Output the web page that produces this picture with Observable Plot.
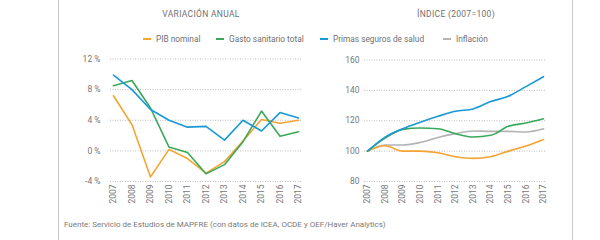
<!DOCTYPE html>
<html><head><meta charset="utf-8">
<script src="https://cdn.jsdelivr.net/npm/d3@7"></script>
<script src="https://cdn.jsdelivr.net/npm/@observablehq/plot@0.6"></script>
<style>
body{margin:0;background:#fff;font-family:Roboto,"DejaVu Sans",sans-serif;}
#wrap{position:relative;width:600px;height:240px;overflow:hidden;background:#fff;}
.frame{position:absolute;top:0;height:240px;width:0;border-left:1.5px solid #c8c8c8;}
.title{position:absolute;top:9px;font-size:8.5px;color:#707070;letter-spacing:0.3px;transform:translateX(-50%);white-space:nowrap;}
#legend{position:absolute;top:33px;left:0;width:600px;font-size:8.3px;color:#707070;white-space:nowrap;}
.li{position:absolute;top:0;line-height:12px;}
.sw{display:inline-block;width:8px;height:2px;vertical-align:middle;margin-right:5px;position:relative;top:-1px;}
.chart{position:absolute;top:50px;}
#foot{position:absolute;left:64px;top:220px;font-size:8px;color:#7a7a7a;white-space:nowrap;}
</style></head>
<body><div id="wrap">
<div class="frame" style="left:58px"></div>
<div class="frame" style="left:572px"></div>
<div class="title" style="left:201px">VARIACIÓN ANUAL</div>
<div class="title" style="left:456px">ÍNDICE (2007=100)</div>
<div id="legend"></div>
<div id="left" class="chart" style="left:60px"></div>
<div id="right" class="chart" style="left:310px"></div>
<div id="foot">Fuente: Servicio de Estudios de MAPFRE (con datos de ICEA, OCDE y OEF/Haver Analytics)</div>
</div>
<script>
const years = [2007,2008,2009,2010,2011,2012,2013,2014,2015,2016,2017];
const seriesNames = ["PIB nominal","Gasto sanitario total","Primas seguros de salud","Inflación"];
const seriesColors = ["#f5a331","#3aa85a","#1a98d5","#b3b3b3"];

// Variación anual (%)
const pibVar    = [7.2, 3.4, -3.4, 0.2, -1.0, -2.9, -1.4, 1.3, 4.1, 3.6, 4.0];
const gastoVar  = [8.5, 9.2, 5.6, 0.5, -0.2, -3.0, -1.8, 1.2, 5.2, 1.9, 2.5];
const primasVar = [9.9, 8.0, 5.4, 4.0, 3.1, 3.2, 1.4, 4.0, 2.6, 5.0, 4.3];
const varTicks = [-4, 0, 4, 8, 12];

// Índice (2007=100)
const pibIdx    = [100, 103.5, 100, 100, 98.9, 96.3, 95.2, 96.3, 100, 103.3, 107.6];
const gastoIdx  = [100, 108.6, 114.3, 115.2, 114.7, 111.5, 109.3, 110.4, 116.3, 118.5, 121.3];
const primasIdx = [100, 109.2, 114.7, 119, 122.9, 126.3, 127.8, 132.6, 136.1, 142.5, 149];
const inflIdx   = [100, 104, 104, 105.7, 109, 111.5, 113.3, 113, 113, 112.6, 114.7];
const idxTicks = [80, 100, 120, 140, 160];

// legend
const legendX = [143, 216, 320, 443];
const leg = document.getElementById("legend");
seriesNames.forEach((n,i)=>{
  const d = document.createElement("div");
  d.className="li"; d.style.left = legendX[i]+"px";
  d.innerHTML = `<span class="sw" style="background:${seriesColors[i]}"></span>${n}`;
  leg.appendChild(d);
});

function rows(vals, name){ return years.map((y,i)=>({year:y, value:vals[i], series:name})); }

const common = {
  width: 250, height: 160, marginTop: 8.5, marginBottom: 29,
  style: {fontFamily: "Roboto, sans-serif", fontSize: "8.5px", color: "#777", background: "transparent"},
  color: {domain: seriesNames, range: seriesColors}
};

const leftData = [...rows(pibVar, seriesNames[0]), ...rows(gastoVar, seriesNames[1]), ...rows(primasVar, seriesNames[2])];
const left = Plot.plot({
  ...common,
  marginLeft: 50, marginRight: 9,
  x: {domain: [2007, 2017], inset: 3},
  y: {domain: [-4, 12]},
  marks: [
    Plot.gridY(varTicks, {stroke: "#bdbdbd", strokeOpacity: 1, strokeDasharray: "1,1.5"}),
    Plot.axisY(varTicks, {tickSize: 0, tickPadding: 10, tickFormat: d => d + " %", label: null, fill: "#777"}),
    Plot.axisX(years, {tickSize: 0, tickPadding: 3, tickRotate: -90, tickFormat: d => String(d), label: null, fill: "#777"}),
    Plot.line(leftData, {x: "year", y: "value", z: "series", stroke: "series", strokeWidth: 1.6})
  ]
});
document.getElementById("left").appendChild(left);

const rightData = [...rows(inflIdx, seriesNames[3]), ...rows(pibIdx, seriesNames[0]), ...rows(gastoIdx, seriesNames[1]), ...rows(primasIdx, seriesNames[2])];
const right = Plot.plot({
  ...common,
  marginTop: 9.5,
  marginLeft: 54, marginRight: 14,
  x: {domain: [2007, 2017], inset: 3},
  y: {domain: [80, 160]},
  marks: [
    Plot.gridY(idxTicks, {stroke: "#bdbdbd", strokeOpacity: 1, strokeDasharray: "1,1.5"}),
    Plot.axisY(idxTicks, {tickSize: 0, tickPadding: 5, label: null, fill: "#777"}),
    Plot.axisX(years, {tickSize: 0, tickPadding: 3, tickRotate: -90, tickFormat: d => String(d), label: null, fill: "#777"}),
    Plot.line(rightData, {x: "year", y: "value", z: "series", stroke: "series", strokeWidth: 1.6, curve: "monotone-x"})
  ]
});
document.getElementById("right").appendChild(right);
</script>
</body></html>
